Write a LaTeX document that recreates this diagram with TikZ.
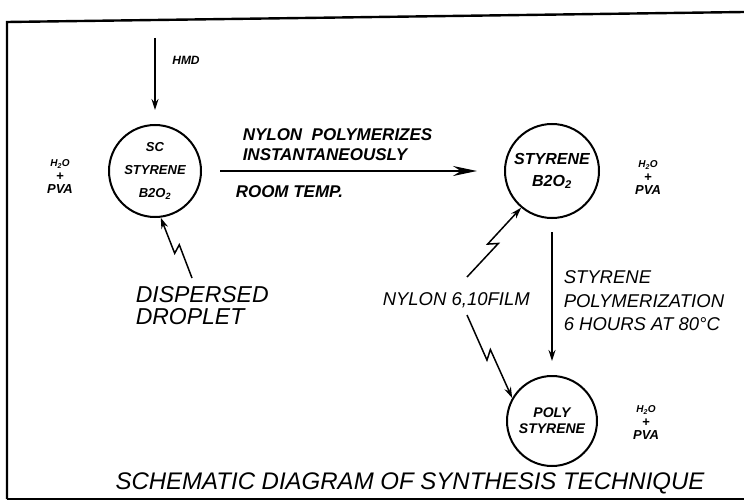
\documentclass[tikz,border=0pt]{standalone}
\usepackage{fontspec}
\setmainfont{Liberation Sans}
\usetikzlibrary{calc,arrows.meta}

\tikzset{
  drop/.style={circle, draw, line width=2pt, minimum size=#1, inner sep=0pt, align=center},
  lbl/.style={inner sep=0pt, font=\itshape\fontsize{18.5}{20}\selectfont},
  blbl/.style={inner sep=0pt, font=\bfseries\itshape\fontsize{17}{20}\selectfont},
  phase/.style={inner sep=0pt, align=center, font=\bfseries\itshape\fontsize{13}{13}\selectfont},
  arr/.style={-{Stealth[length=11pt, width=7pt]}},
  bolt/.style={arr, to path={
    -- ($(\tikztostart)!0.52!(\tikztotarget)!4pt!-90:(\tikztotarget)$)
    -- ($(\tikztostart)!0.44!(\tikztotarget)!4pt!90:(\tikztotarget)$)
    -- (\tikztotarget) \tikztonodes}},
}
\newcommand{\wphase}{{\fontsize{10}{10}\selectfont H\textsubscript{2}O}\\[1pt]+\\[0pt]PVA}

\begin{document}
\begin{tikzpicture}[x=1pt, y=-1pt, line width=1.5pt]
  \useasboundingbox (0,0) rectangle (744,503);
  % frame
  \draw[line width=2.4pt] (744,12) -- (7,22) -- (7,499);
  \draw[line width=1.2pt] (7,499) -- (744,499);

  % droplets
  \node[drop=92, font=\bfseries\itshape\fontsize{13}{23}\selectfont] (sc) at (155,171) {SC\\STYRENE\\B2O\textsubscript{2}};
  \node[drop=94, font=\bfseries\itshape\fontsize{16}{22}\selectfont] (st) at (552,171) {STYRENE\\B2O\textsubscript{2}};
  \node[drop=90, font=\bfseries\itshape\fontsize{14}{16}\selectfont] (ps) at (552,421) {POLY\\STYRENE};

  % water phase
  \node[phase] (w1) at (60,177) {\wphase};
  \node[phase] (w2) at (648,178) {\wphase};
  \node[phase] (w3) at (646,423) {\wphase};

  % diamine feed
  \coordinate (feed) at (155,38);
  \node[phase, font=\bfseries\itshape\fontsize{12}{12}\selectfont] (hmd) at (186,60) {HMD};
  \draw[arr, shorten >=14pt] (feed) -- (sc.north);

  % interfacial step
  \draw[-{Stealth[length=24pt, width=10pt]}, line width=2pt, shorten <=18pt, shorten >=27pt] (sc) -- (st);
  \node[blbl, anchor=base west] (n1) at (242,140) {NYLON\ \ POLYMERIZES};
  \node[blbl, anchor=base west] (n2) at (242,160) {INSTANTANEOUSLY};
  \node[blbl, anchor=base west] (n3) at (235,197) {ROOM TEMP.};

  % dispersed droplet
  \coordinate (dd) at (192,278);
  \node[lbl, font=\itshape\fontsize{23}{24}\selectfont, anchor=base west] (d1) at (135,302) {DISPERSED};
  \node[lbl, font=\itshape\fontsize{23}{24}\selectfont, anchor=base west] (d2) at (135,324) {DROPLET};
  \draw[bolt] (dd) to (sc.277);

  % nylon film
  \node[lbl, anchor=base west] (nf) at (382,305) {NYLON 6,10FILM};
  \coordinate (nfup) at (467,277);
  \coordinate (nfdn) at (467,315);
  \draw[bolt] (nfup) to (st.230);
  \draw[bolt] (nfdn) to (ps.150);

  % suspension polymerization
  \draw[arr, shorten <=13pt, shorten >=14pt] (st.south) -- (ps.north);
  \node[lbl, anchor=base west] (p1) at (563,283) {STYRENE};
  \node[lbl, anchor=base west] (p2) at (563,307) {POLYMERIZATION};
  \node[lbl, anchor=base west] (p3) at (563,330) {6 HOURS AT 80°C};

  \node[lbl, font=\itshape\fontsize{24}{26}\selectfont] (title) at (410,483) {SCHEMATIC DIAGRAM OF SYNTHESIS TECHNIQUE};
\end{tikzpicture}
\end{document}
